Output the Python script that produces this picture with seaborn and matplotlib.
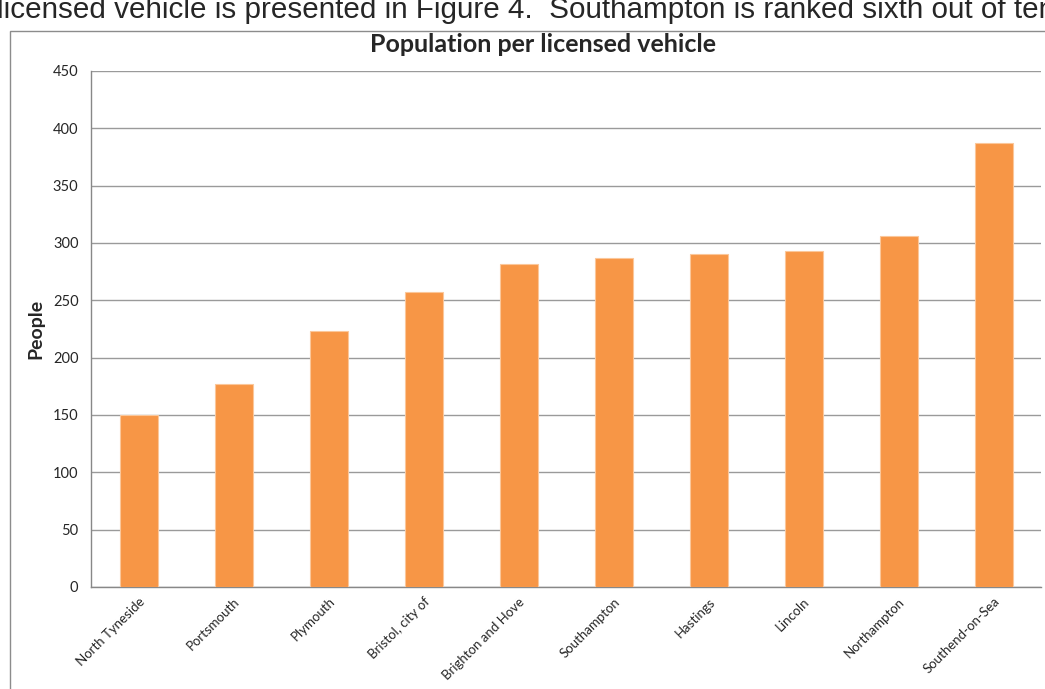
import matplotlib
matplotlib.use("Agg")
import matplotlib.pyplot as plt
import matplotlib.patches as mpatches
import numpy as np
import pandas as pd
import seaborn as sns

# data
areas = ["North Tyneside", "Portsmouth", "Plymouth", "Bristol, city of",
         "Brighton and Hove", "Southampton", "Hastings", "Lincoln",
         "Northampton", "Southend-on-Sea"]
people = [150, 177, 223, 257, 282, 287, 290, 293, 306, 387]
y_ticks = list(range(0, 451, 50))

df = pd.DataFrame({"area": areas, "people": people})

sns.set_style("white")
plt.rcParams['font.family'] = ['Lato', 'DejaVu Sans']

fig = plt.figure(figsize=(10.45, 6.89), dpi=100)
ax = fig.add_axes([91 / 1045, 1 - 587 / 689, (1041 - 91) / 1045, (587 - 71) / 689])

sns.barplot(data=df, x="area", y="people", color="#F79646", width=0.4,
            saturation=1, edgecolor="#FBC79A", linewidth=0.8, ax=ax, zorder=3)

ax.set_ylim(0, 450)
ax.set_xlim(-0.5, len(areas) - 0.5)
ax.set_yticks(y_ticks)
ax.yaxis.grid(True, color="#9a9a9a", linewidth=1, zorder=0)
ax.set_axisbelow(True)

for side in ["top", "right"]:
    ax.spines[side].set_visible(False)
for side in ["left", "bottom"]:
    ax.spines[side].set_color("#888888")
    ax.spines[side].set_linewidth(1)

# x ticks between categories
ax.set_xticks(np.arange(-0.5, len(areas), 1), minor=True)
ax.tick_params(axis="x", which="minor", length=5, color="#888888", direction="out")
ax.tick_params(axis="x", which="major", length=0, pad=6)
ax.tick_params(axis="y", length=5, color="#888888", direction="out", labelsize=10.5, pad=4)
ax.set_xticks(range(len(areas)))
ax.set_xticklabels(areas, rotation=45, ha="right", rotation_mode="anchor", fontsize=9.5)

ax.set_xlabel("")
ax.set_ylabel("People", fontsize=14, fontweight="bold", labelpad=6)
fig.text(543 / 1045, 1 - 44 / 689, "Population per licensed vehicle",
         ha="center", va="center", fontsize=18, fontweight="bold")

# chart frame, clipped by the page edge like the screenshot
fig.patches.append(mpatches.Rectangle((10 / 1045, -0.1), 1.2, 1 - 31 / 689 + 0.1,
                                      transform=fig.transFigure, fill=False,
                                      edgecolor="#8c8c8c", linewidth=1))

# surrounding document text, cut at the top as in the screenshot
fig.text(-3 / 1045, 1 - 18 / 689,
         "licensed vehicle is presented in Figure 4.  Southampton is ranked sixth out of ten",
         ha="left", va="baseline", fontsize=21.3, family=["Liberation Sans", "DejaVu Sans"])

fig.savefig("out.png", dpi=100)
